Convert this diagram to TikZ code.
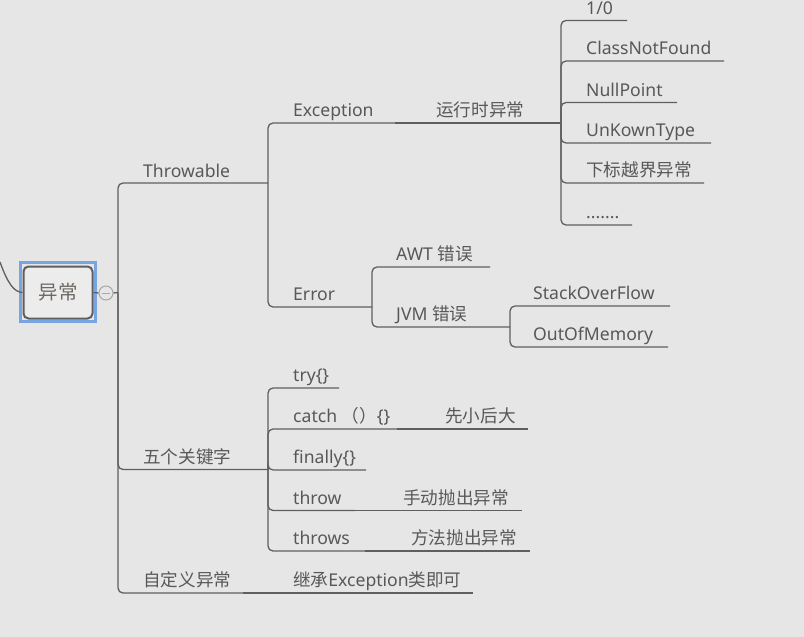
\documentclass[tikz,border=0pt]{standalone}
\usepackage{fontspec}
\setmainfont{Noto Sans}
\newfontfamily\cjk{Noto Sans CJK SC}
\definecolor{bg}{RGB}{230,230,230}
\definecolor{ln}{RGB}{95,95,95}
\definecolor{txt}{RGB}{88,88,88}
\definecolor{roottxt}{RGB}{110,104,98}
\definecolor{selblue}{RGB}{120,165,225}
\definecolor{boxfill}{RGB}{236,236,236}
\tikzset{
  link/.style={draw=ln, line width=1.3pt, rounded corners=5pt},
  topic/.style={anchor=base west, inner sep=0pt, text=txt, font=\fontsize{17.6}{21}\selectfont},
  rootbox/.style={draw=ln, line width=2pt, fill=boxfill, rounded corners=5pt, minimum width=69pt, minimum height=52pt, text=roottxt, font=\fontsize{19.5}{23}\selectfont},
  selbox/.style={draw=selblue, line width=3pt, minimum width=75pt, minimum height=59pt},
  collapse/.style={circle, draw=ln!55, line width=1pt, minimum size=14pt, inner sep=0pt}
}
\begin{document}
\begin{tikzpicture}[x=1pt,y=-1pt]
\fill[bg] (0,0) rectangle (804,637);
\useasboundingbox (0,0) rectangle (804,637);

% root
\node[selbox] (sel) at (58,292) {};
\node[rootbox] (root) at (58,292.5) {\cjk 异常};
\coordinate (parentIn) at (0,262);
\draw[link] (parentIn) .. controls (8,284) and (14,292) .. (root.west);
\node[collapse] (col) at (106,293) {};
\draw[ln!55, line width=1pt] ([xshift=-4pt]col.center) -- ([xshift=4pt]col.center);
\coordinate (trunkJ) at (118,292.5);
\draw[link] (root.east) -- (col.west);
\draw[link] (col.east) -- (trunkJ);

% coordinates (line ends)
\coordinate (thrE) at (268,183);
\coordinate (excE) at (395,123);
\coordinate (rtE) at (561,123);
\coordinate (c1E) at (627,20.5);
\coordinate (c2E) at (724,61);
\coordinate (c3E) at (677,102.5);
\coordinate (c4E) at (711,143);
\coordinate (c5E) at (704,183);
\coordinate (c6E) at (632,225);
\coordinate (errE) at (372,307);
\coordinate (awtE) at (490,267);
\coordinate (jvmE) at (510,327);
\coordinate (sofE) at (670,306);
\coordinate (oomE) at (668,347);
\coordinate (kwE) at (268,469.5);
\coordinate (tryE) at (339,388);
\coordinate (catE) at (397,429);
\coordinate (catNE) at (528,429);
\coordinate (finE) at (366,470);
\coordinate (thwE) at (355,510.5);
\coordinate (thwNE) at (522,510.5);
\coordinate (thsE) at (365,551);
\coordinate (thsNE) at (530,551);
\coordinate (cusE) at (243,593);
\coordinate (cusNE) at (473,593);

% connectors
\draw[link] (trunkJ) |- (thrE);
\draw[link] (trunkJ) |- (kwE);
\draw[link] (trunkJ) |- (cusE);
\draw[link] (cusE) -- (cusNE);

\draw[link] (thrE) |- (excE);
\draw[link] (thrE) |- (errE);
\draw[link] (excE) -- (rtE);

\draw[link] (rtE) |- (c1E);
\draw[link] (rtE) |- (c2E);
\draw[link] (rtE) |- (c3E);
\draw[link] (rtE) |- (c4E);
\draw[link] (rtE) |- (c5E);
\draw[link] (rtE) |- (c6E);

\draw[link] (errE) |- (awtE);
\draw[link] (errE) |- (jvmE);
\draw[link] (jvmE) |- (sofE);
\draw[link] (jvmE) |- (oomE);

\draw[link] (kwE) |- (tryE);
\draw[link] (kwE) |- (catE);
\draw[link] (kwE) |- (finE);
\draw[link] (kwE) |- (thwE);
\draw[link] (kwE) |- (thsE);
\draw[link] (catE) -- (catNE);
\draw[link] (thwE) -- (thwNE);
\draw[link] (thsE) -- (thsNE);

% texts
\node[topic] (tThr) at (143,177) {Throwable};
\node[topic] (tExc) at (293,116.5) {Exception};
\node[topic] (tRt) at (436,116.5) {\cjk 运行时异常};
\node[topic] (tC1) at (586,14) {1/0};
\node[topic] (tC2) at (586,54.5) {ClassNotFound};
\node[topic] (tC3) at (586,96) {NullPoint};
\node[topic] (tC4) at (586,136.5) {UnKownType};
\node[topic] (tC5) at (586,176.5) {\cjk 下标越界异常};
\node[topic] (tC6) at (586,218.5) {.......};
\node[topic] (tErr) at (293,300.5) {Error};
\node[topic] (tAwt) at (396,260.5) {AWT {\cjk 错误}};
\node[topic] (tJvm) at (396,320.5) {JVM {\cjk 错误}};
\node[topic] (tSof) at (533,299.5) {StackOverFlow};
\node[topic] (tOom) at (533,340.5) {OutOfMemory};
\node[topic] (tKw) at (143,463) {\cjk 五个关键字};
\node[topic] (tTry) at (293,381.5) {try\{\}};
\node[topic] (tCat) at (293,422.5) {catch {\cjk （）}\{\}};
\node[topic] (tCatN) at (445,422.5) {\cjk 先小后大};
\node[topic] (tFin) at (293,463.5) {finally\{\}};
\node[topic] (tThw) at (293,504) {throw};
\node[topic] (tThwN) at (403,504) {\cjk 手动抛出异常};
\node[topic] (tThs) at (293,544.5) {throws};
\node[topic] (tThsN) at (411,544.5) {\cjk 方法抛出异常};
\node[topic] (tCus) at (143,586.5) {\cjk 自定义异常};
\node[topic] (tCusN) at (293,586.5) {{\cjk 继承}Exception{\cjk 类即可}};
\end{tikzpicture}
\end{document}
